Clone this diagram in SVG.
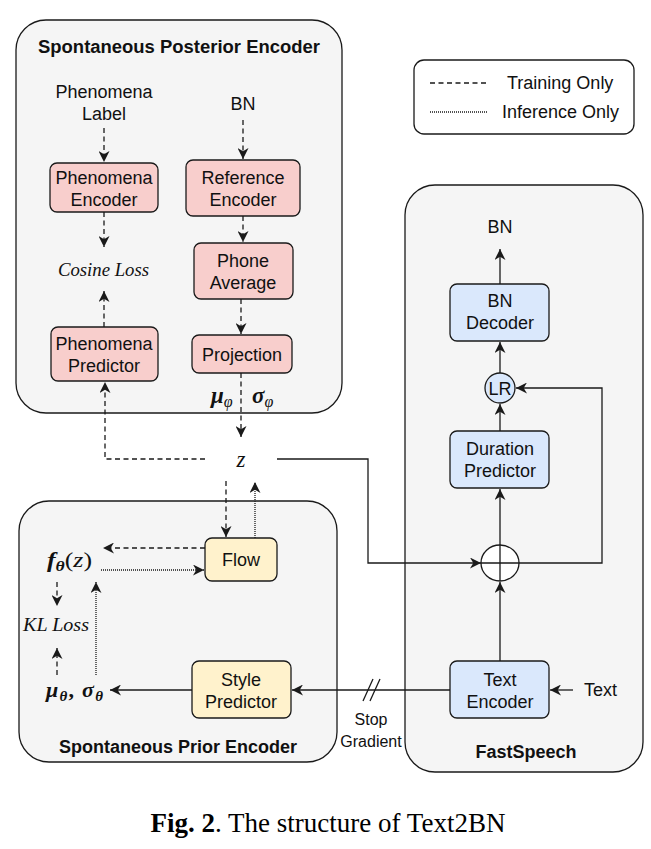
<svg xmlns="http://www.w3.org/2000/svg" width="651" height="849" viewBox="0 0 651 849">
<style>
.c{fill:#f5f5f5;stroke:#1a1a1a;stroke-width:1.3}
.n{stroke:#1a1a1a;stroke-width:1.3}
.pk{fill:#f8cecc}.yl{fill:#fff2cc}.bl{fill:#dae8fc}
.t{font-family:"Liberation Sans",Arial,sans-serif;font-size:18px;fill:#111;text-anchor:middle}
.ts{font-family:"Liberation Sans",Arial,sans-serif;font-size:18px;fill:#111;text-anchor:start}
.tb{font-family:"Liberation Sans",Arial,sans-serif;font-size:18px;font-weight:bold;fill:#111;text-anchor:middle}
.m{font-family:"Liberation Serif","DejaVu Serif",serif;font-style:italic;fill:#111}
.e{fill:none;stroke:#1a1a1a;stroke-width:1.3}
.d{stroke-dasharray:5 3.5}
.o{stroke-dasharray:1 1}
</style>
<defs>
<marker id="a" markerUnits="userSpaceOnUse" markerWidth="11" markerHeight="11" refX="10" refY="5" orient="auto" viewBox="0 0 10 10">
<path d="M0,0 L10,5 L0,10 L3,5 z" fill="#1a1a1a"/>
</marker>
</defs>
<rect width="651" height="849" fill="#fff"/>

<g id="posterior-encoder">
<rect class="c" x="16" y="20" width="326" height="393" rx="30"/>
<text class="tb" x="179" y="53" textLength="282" lengthAdjust="spacingAndGlyphs">Spontaneous Posterior Encoder</text>
</g>
<g id="prior-encoder">
<rect class="c" x="19" y="501" width="318" height="261" rx="30"/>
<text class="tb" x="178" y="753">Spontaneous Prior Encoder</text>
</g>
<g id="fastspeech">
<rect class="c" x="405" y="185" width="238" height="587" rx="30"/>
<text class="tb" x="526" y="758">FastSpeech</text>
</g>
<g id="legend">
<rect fill="#fff" stroke="#1a1a1a" stroke-width="1.3" x="414" y="60" width="220" height="74" rx="10"/>
<line class="e d" x1="430" y1="83" x2="486" y2="83"/>
<text class="ts" x="507" y="89">Training Only</text>
<line class="e o" x1="430" y1="112" x2="487" y2="112"/>
<text class="ts" x="502" y="118">Inference Only</text>
</g>

<g id="phenomena-label"><text class="t" x="104" y="98">Phenomena</text><text class="t" x="104" y="120">Label</text></g>
<g id="bn-input"><text class="t" x="243" y="110">BN</text></g>
<g id="phenomena-encoder"><rect class="n pk" x="50" y="163" width="108" height="49" rx="7"/><text class="t" x="104" y="184">Phenomena</text><text class="t" x="104" y="206">Encoder</text></g>
<g id="reference-encoder"><rect class="n pk" x="186" y="160" width="114" height="56" rx="7"/><text class="t" x="243" y="184">Reference</text><text class="t" x="243" y="206">Encoder</text></g>
<g id="phone-average"><rect class="n pk" x="194" y="243" width="99" height="56" rx="7"/><text class="t" x="243" y="267">Phone</text><text class="t" x="243" y="289">Average</text></g>
<g id="projection"><rect class="n pk" x="192" y="335" width="100" height="38" rx="7"/><text class="t" x="242" y="361">Projection</text></g>
<g id="cosine-loss"><text class="m" x="58" y="276" font-size="19" textLength="91" lengthAdjust="spacingAndGlyphs">Cosine Loss</text></g>
<g id="phenomena-predictor"><rect class="n pk" x="51" y="327" width="107" height="54" rx="7"/><text class="t" x="104" y="350">Phenomena</text><text class="t" x="104" y="372">Predictor</text></g>
<g id="mu-sigma-phi"><text class="m" x="211" y="403" font-size="23"><tspan font-weight="bold">μ</tspan><tspan font-size="16" dy="4">φ</tspan></text><text class="m" x="252" y="403" font-size="23"><tspan font-weight="bold">σ</tspan><tspan font-size="16" dy="4">φ</tspan></text></g>
<g id="z"><text class="m" x="241" y="467" font-size="23" text-anchor="middle">z</text></g>

<g id="flow"><rect class="n yl" x="205" y="538" width="72" height="43" rx="7"/><text class="t" x="241" y="566">Flow</text></g>
<g id="f-theta"><text class="m" x="47" y="567" font-size="22" textLength="45" lengthAdjust="spacingAndGlyphs"><tspan font-weight="bold">f</tspan><tspan font-size="15" dy="4" font-weight="bold">θ</tspan><tspan dy="-4" font-style="normal">(</tspan>z<tspan font-style="normal">)</tspan></text></g>
<g id="kl-loss"><text class="m" x="23" y="631" font-size="19" textLength="66" lengthAdjust="spacingAndGlyphs">KL Loss</text></g>
<g id="mu-sigma-theta"><text class="m" x="46" y="697" font-size="22" font-weight="bold" textLength="57" lengthAdjust="spacing">μ<tspan font-size="15" dy="4">θ</tspan><tspan dy="-4" font-style="normal">, </tspan>σ<tspan font-size="15" dy="4">θ</tspan></text></g>
<g id="style-predictor"><rect class="n yl" x="192" y="661" width="99" height="57" rx="7"/><text class="t" x="241" y="686">Style</text><text class="t" x="241" y="708">Predictor</text></g>

<g id="bn-output"><text class="t" x="500" y="233">BN</text></g>
<g id="bn-decoder"><rect class="n bl" x="450" y="284" width="99" height="57" rx="7"/><text class="t" x="500" y="307">BN</text><text class="t" x="500" y="329">Decoder</text></g>
<g id="lr"><circle class="n bl" cx="500" cy="388" r="15"/><text class="t" x="500" y="394.5">LR</text></g>
<g id="duration-predictor"><rect class="n bl" x="450" y="431" width="99" height="57" rx="7"/><text class="t" x="500" y="455">Duration</text><text class="t" x="500" y="477">Predictor</text></g>
<g id="sum"><ellipse cx="500" cy="563" rx="19" ry="18" fill="#fff" stroke="#1a1a1a" stroke-width="1.3"/><path class="e" d="M481,563 H519 M500,545 V581"/></g>
<g id="text-encoder"><rect class="n bl" x="450" y="661" width="99" height="57" rx="7"/><text class="t" x="500" y="686">Text</text><text class="t" x="500" y="708">Encoder</text></g>
<g id="text-input"><text class="ts" x="584" y="696">Text</text></g>
<g id="stop-gradient"><text class="t" x="371" y="725" style="font-size:16px">Stop</text><text class="t" x="371" y="747" style="font-size:16px">Gradient</text></g>

<g id="connectors">
<path class="e d" marker-end="url(#a)" d="M104,128 V162"/>
<path class="e d" marker-end="url(#a)" d="M243,120 V159"/>
<path class="e d" marker-end="url(#a)" d="M243,216 V242"/>
<path class="e d" marker-end="url(#a)" d="M241,299 V334"/>
<path class="e d" marker-end="url(#a)" d="M104,212 V247"/>
<path class="e d" marker-end="url(#a)" d="M104,327 V291"/>
<path class="e d" marker-end="url(#a)" d="M241,373 V437"/>
<path class="e d" marker-end="url(#a)" d="M205,459 H105 V382"/>
<path class="e" marker-end="url(#a)" d="M277,459 H368 V563 H481"/>
<path class="e d" marker-end="url(#a)" d="M226,481 V537"/>
<path class="e o" marker-end="url(#a)" d="M255,538 V482"/>
<path class="e d" marker-end="url(#a)" d="M205,548 H103"/>
<path class="e o" marker-end="url(#a)" d="M101,570 H204"/>
<path class="e d" marker-end="url(#a)" d="M57,582 V606"/>
<path class="e d" marker-end="url(#a)" d="M57,675 V648"/>
<path class="e o" marker-end="url(#a)" d="M96,675 V582"/>
<path class="e" marker-end="url(#a)" d="M192,690 H110"/>
<path class="e" marker-end="url(#a)" d="M450,690 H292"/>
<path class="e" d="M363,701 L373,679 M370,701 L380,679"/>
<path class="e" marker-end="url(#a)" d="M573,690 H550"/>
<path class="e" marker-end="url(#a)" d="M500,661 V582"/>
<path class="e" marker-end="url(#a)" d="M500,545 V489"/>
<path class="e" marker-end="url(#a)" d="M500,431 V404"/>
<path class="e" marker-end="url(#a)" d="M500,373 V342"/>
<path class="e" marker-end="url(#a)" d="M500,284 V249"/>
<path class="e" marker-end="url(#a)" d="M519,563 H602 V388 H516"/>
</g>

<g id="caption"><text x="328" y="832" font-family="'Liberation Serif','Times New Roman',serif" font-size="27" fill="#000" text-anchor="middle"><tspan font-weight="bold">Fig. 2</tspan>. The structure of Text2BN</text></g>
</svg>
